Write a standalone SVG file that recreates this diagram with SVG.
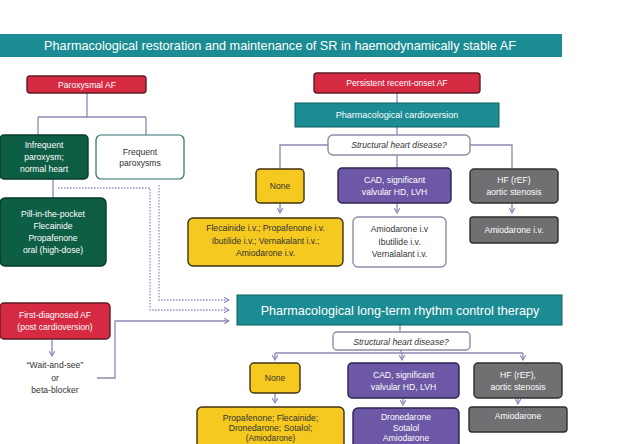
<svg xmlns="http://www.w3.org/2000/svg" width="630" height="444" viewBox="0 0 630 444">
<defs>
<marker id="chev" viewBox="0 0 10 10" refX="8" refY="5" markerWidth="7" markerHeight="7" orient="auto" markerUnits="userSpaceOnUse">
<path d="M1,1 L8,5 L1,9" fill="none" stroke="#8d89bd" stroke-width="1.6"/>
</marker>
<style>
text{font-family:"Liberation Sans",Arial,sans-serif;text-anchor:middle;font-size:8.6px}
.w{fill:#ffffff}
.d{fill:#333333}
.t{fill:#1b8c93}
.red{fill:#d62a43;stroke:#5e1b25;stroke-width:1.4}
.grn{fill:#0e5d45;stroke:#073a2a;stroke-width:1.4}
.yel{fill:#f5c91f;stroke:#3e3210;stroke-width:1.4}
.pur{fill:#6c58a6;stroke:#2c2350;stroke-width:1.4}
.gry{fill:#6f7072;stroke:#2e2e30;stroke-width:1.4}
.wht{fill:#ffffff;stroke:#8f8cab;stroke-width:1.4}
.wtl{fill:#ffffff;stroke:#2a6f6c;stroke-width:1.2}
.ln{fill:none;stroke:#8d89b3;stroke-width:1.3}
.dot{fill:none;stroke:#9b96d0;stroke-width:1.4;stroke-dasharray:1.6 1.4}
.it{font-style:italic;fill:#333333}
</style>
</defs>
<rect width="630" height="444" fill="#ffffff"/>

<g id="connectors">
<path class="ln" d="M87,93 V117 M38,117 H146 M38,117 V135 M146,117 V135"/>
<path class="ln" d="M53,179 V198"/>
<path class="dot" d="M58,188 H150 V310 H229" marker-end="url(#chev)"/>
<path class="dot" d="M159,185 V300 H229" marker-end="url(#chev)"/>
<path class="ln" d="M52,339 V356" marker-end="url(#chev)"/>
<path class="ln" d="M97,378 H115 V321 H229" marker-end="url(#chev)"/>
<path class="ln" d="M397,93 V103 M397,127 V135"/>
<path class="ln" d="M328,145 H280 V169 M470,145 H512 V169 M397,155 V168"/>
<path class="ln" d="M280,203 V213" marker-end="url(#chev)"/>
<path class="ln" d="M397,203 V213" marker-end="url(#chev)"/>
<path class="ln" d="M512,203 V213" marker-end="url(#chev)"/>
<path class="ln" d="M400,325 V332 M401,350 V353 M275,353 H523"/>
<path class="ln" d="M275,353 V360" marker-end="url(#chev)"/>
<path class="ln" d="M402,353 V360" marker-end="url(#chev)"/>
<path class="ln" d="M523,353 V360" marker-end="url(#chev)"/>
<path class="ln" d="M275,393 V403" marker-end="url(#chev)"/>
<path class="ln" d="M403,398 V405" marker-end="url(#chev)"/>
<path class="ln" d="M518,398 V404" marker-end="url(#chev)"/>
</g>

<g id="title">
<rect x="0" y="34" width="562" height="23" class="t"/>
<text x="280" y="50" class="w" style="font-size:12.7px">Pharmacological restoration and maintenance of SR in haemodynamically stable AF</text>
</g>

<g id="paroxysmal">
<rect x="27" y="76" width="119" height="17" rx="3" class="red"/>
<text x="87" y="87.5" class="w">Paroxysmal AF</text>
</g>
<g id="infrequent">
<rect x="0" y="135" width="88" height="44" rx="4" class="grn"/>
<text x="44" y="148" class="w">Infrequent</text>
<text x="44" y="160" class="w">paroxysm;</text>
<text x="44" y="172" class="w">normal heart</text>
</g>
<g id="frequent">
<rect x="96" y="135" width="88" height="44" rx="5" class="wtl"/>
<text x="140" y="155" class="d">Frequent</text>
<text x="140" y="166" class="d">paroxysms</text>
</g>
<g id="pill">
<rect x="0" y="198" width="106" height="68" rx="5" class="grn"/>
<text x="53" y="217" class="w">Pill-in-the-pocket</text>
<text x="53" y="229" class="w">Flecainide</text>
<text x="53" y="241" class="w">Propafenone</text>
<text x="53" y="253" class="w">oral (high-dose)</text>
</g>

<g id="persistent">
<rect x="314" y="73" width="166" height="20" rx="3" class="red"/>
<text x="397" y="86" class="w">Persistent recent-onset AF</text>
</g>
<g id="cardioversion">
<rect x="295" y="103" width="204" height="24" class="t" stroke="#125f63" stroke-width="1"/>
<text x="397" y="118" class="w" style="font-size:9px">Pharmacological cardioversion</text>
</g>
<g id="shd1">
<rect x="328" y="135" width="142" height="20" rx="5" class="wht"/>
<text x="399" y="148" class="it">Structural heart disease?</text>
</g>
<g id="none1">
<rect x="256" y="169" width="48" height="34" rx="4" class="yel"/>
<text x="280" y="189" class="d">None</text>
</g>
<g id="flec1">
<rect x="188" y="218" width="155" height="48" rx="5" class="yel"/>
<text x="265.5" y="231" class="d">Flecainide i.v.; Propafenone i.v.</text>
<text x="265.5" y="244" class="d">Ibutilide i.v.; Vernakalant i.v.;</text>
<text x="265.5" y="256" class="d">Amiodarone i.v.</text>
</g>
<g id="cad1">
<rect x="338" y="168" width="113" height="35" rx="4" class="pur"/>
<text x="394.5" y="183" class="w">CAD, significant</text>
<text x="394.5" y="195" class="w">valvular HD, LVH</text>
</g>
<g id="amio1">
<rect x="353" y="217" width="93" height="50" rx="5" class="wht"/>
<text x="399.5" y="232" class="d">Amiodarone i.v</text>
<text x="399.5" y="245" class="d">Ibutilide i.v.</text>
<text x="399.5" y="257" class="d">Vernalalant i.v.</text>
</g>
<g id="hf1">
<rect x="470" y="169" width="88" height="34" rx="4" class="gry"/>
<text x="514" y="183" class="w">HF (rEF)</text>
<text x="514" y="195" class="w">aortic stenosis</text>
</g>
<g id="amiogrey1">
<rect x="470" y="217" width="88" height="26" rx="3" class="gry"/>
<text x="514" y="233" class="w">Amiodarone i.v.</text>
</g>

<g id="firstdiag">
<rect x="0" y="303" width="110" height="36" rx="4" class="red"/>
<text x="55" y="318" class="w">First-diagnosed AF</text>
<text x="55" y="330" class="w">(post cardioversion)</text>
</g>
<g id="waitsee">
<text x="55" y="368" class="d">“Wait-and-see”</text>
<text x="55" y="381" class="d">or</text>
<text x="55" y="393" class="d">beta-blocker</text>
</g>

<g id="longterm">
<rect x="237" y="295" width="325" height="30" class="t" stroke="#125f63" stroke-width="1"/>
<text x="400" y="314.5" class="w" style="font-size:12.6px">Pharmacological long-term rhythm control therapy</text>
</g>
<g id="shd2">
<rect x="333" y="332" width="137" height="18" rx="4" class="wht"/>
<text x="401" y="344.5" class="it">Structural heart disease?</text>
</g>
<g id="none2">
<rect x="250" y="363" width="50" height="30" rx="4" class="yel"/>
<text x="275" y="381" class="d">None</text>
</g>
<g id="propa2">
<rect x="197" y="407" width="147" height="45" rx="5" class="yel"/>
<text x="270.5" y="421" class="d">Propafenone; Flecainide;</text>
<text x="270.5" y="431" class="d">Dronedarone; Sotalol;</text>
<text x="270.5" y="440.5" class="d" style="font-size:8.2px">(Amiodarone)</text>
</g>
<g id="cad2">
<rect x="348" y="363" width="111" height="35" rx="4" class="pur"/>
<text x="403.5" y="378" class="w">CAD, significant</text>
<text x="403.5" y="390" class="w">valvular HD, LVH</text>
</g>
<g id="drone2">
<rect x="353" y="408" width="106" height="45" rx="5" class="pur"/>
<text x="406" y="420" class="w">Dronedarone</text>
<text x="406" y="430.5" class="w">Sotalol</text>
<text x="406" y="441" class="w">Amiodarone</text>
</g>
<g id="hf2">
<rect x="474" y="363" width="88" height="35" rx="4" class="gry"/>
<text x="518" y="378" class="w">HF (rEF),</text>
<text x="518" y="390" class="w">aortic stenosis</text>
</g>
<g id="amio2">
<rect x="469" y="407" width="98" height="25" rx="3" class="gry"/>
<text x="518" y="419" class="w">Amiodarone</text>
</g>
</svg>
